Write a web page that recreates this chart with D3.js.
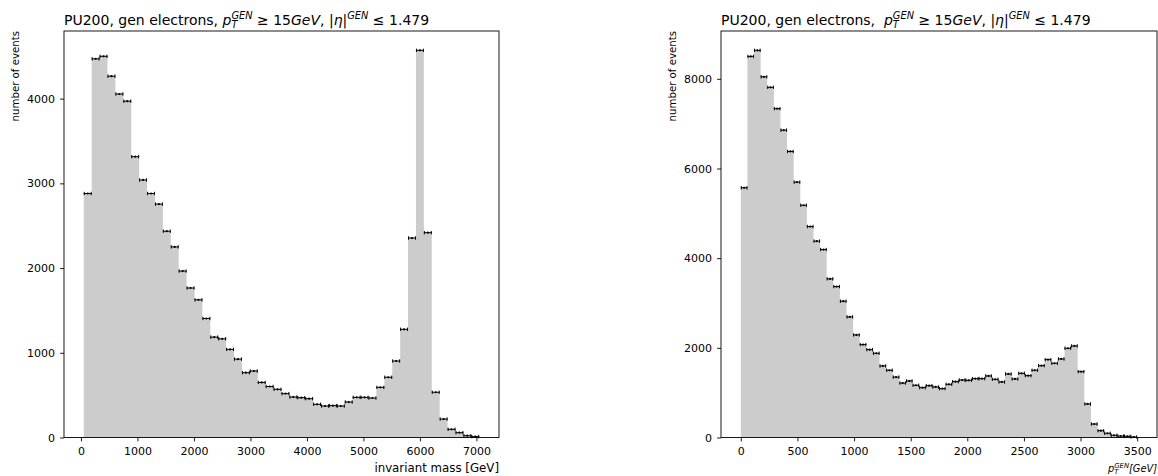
<!DOCTYPE html>
<html>
<head>
<meta charset="utf-8">
<script src="https://cdn.jsdelivr.net/npm/d3@7"></script>
<style>
  html, body { margin: 0; padding: 0; background: #ffffff; }
  svg { display: block; }
  text { font-family: "DejaVu Sans", sans-serif; fill: #000; }
</style>
</head>
<body>
<svg id="chart" width="1158" height="476"></svg>
<script>
// ---- histogram data -------------------------------------------------------
// invariant mass of the gen-electron pair: 50 bins, 50 .. 7050 GeV
const massRange = [50, 7050];
const massCounts = [
  2880, 4470, 4500, 4265, 4055, 3970, 3315, 3040, 2880, 2755,
  2435, 2250, 1965, 1765, 1625, 1405, 1185, 1165, 1040, 925,
  765, 785, 650, 602, 569, 518, 478, 470, 458, 392,
  372, 376, 372, 419, 474, 474, 466, 592, 711, 903,
  1277, 2355, 4570, 2418, 534, 218, 97, 57, 21, 10
];
const massTicksX = [0, 1000, 2000, 3000, 4000, 5000, 6000, 7000];
const massTicksY = [0, 1000, 2000, 3000, 4000];

// gen-electron transverse momentum: 60 bins, 0 .. 3500 GeV
const ptRange = [0, 3500];
const ptCounts = [
  5570, 8500, 8635, 8045, 7810, 7335, 6855, 6380, 5696, 5180,
  4705, 4380, 4192, 3538, 3366, 3040, 2690, 2288, 2072, 1960,
  1879, 1596, 1500, 1347, 1214, 1261, 1165, 1112, 1157, 1127,
  1090, 1187, 1246, 1283, 1276, 1313, 1313, 1373, 1298, 1239,
  1417, 1306, 1432, 1380, 1500, 1603, 1737, 1656, 1752, 1991,
  2042, 1469, 748, 301, 152, 94, 49, 33, 27, 11
];
const ptTicksX = [0, 500, 1000, 1500, 2000, 2500, 3000, 3500];
const ptTicksY = [0, 2000, 4000, 6000, 8000];

// titles / labels as runs of text (it = italic, sub/sup = script, stack = same x as previous script)
const massTitle = [
  {t: "PU200, gen electrons, "},
  {t: "p", it: true}, {t: "T", it: true, sub: true}, {t: "GEN", it: true, sup: true, stack: true},
  {t: " ≥ 15"}, {t: "GeV", it: true}, {t: ", |"}, {t: "η", it: true}, {t: "|"},
  {t: "GEN", it: true, sup: true}, {t: " ≤ 1.479"}
];
const ptTitle = [
  {t: "PU200, gen electrons,  "},
  {t: "p", it: true}, {t: "T", it: true, sub: true}, {t: "GEN", it: true, sup: true, stack: true},
  {t: " ≥ 15"}, {t: "GeV", it: true}, {t: ", |"}, {t: "η", it: true}, {t: "|"},
  {t: "GEN", it: true, sup: true}, {t: " ≤ 1.479"}
];
const massXLabel = [{t: "invariant mass [GeV]"}];
const ptXLabel = [
  {t: "p", it: true}, {t: "T", it: true, sub: true}, {t: "GEN", it: true, sup: true, stack: true},
  {t: "[", it: true}, {t: "GeV", it: true}, {t: "]", it: true}
];
const yLabel = "number of events";

// ---- drawing --------------------------------------------------------------
const svg = d3.select("#chart");
const FILL = "#cccccc";
const TICK = 3.9, FS = 11, TITLE_FS = 14;

// text made of styled runs, placed one after another
function richText(parent, x, y, anchor, runs, size) {
  const g = parent.append("g");
  let cx = 0, lastScriptX = 0, lastScriptW = 0;
  runs.forEach(r => {
    const fs = (r.sub || r.sup) ? size * 0.7 : size;
    const dy = r.sub ? size * 0.22 : (r.sup ? -size * 0.42 : 0);
    let px = cx;
    if (r.stack) px = lastScriptX;
    const t = g.append("text")
      .attr("x", px).attr("y", dy)
      .attr("font-size", fs)
      .style("font-style", r.it ? "italic" : "normal")
      .style("white-space", "pre")
      .text(r.t);
    const w = t.node().getComputedTextLength();
    if (r.stack) {
      cx = Math.max(lastScriptX + lastScriptW, lastScriptX + w);
    } else {
      if (r.sub || r.sup) { lastScriptX = px; lastScriptW = w; }
      cx = px + w;
    }
  });
  const shift = anchor === "end" ? -cx : (anchor === "middle" ? -cx / 2 : 0);
  g.attr("transform", `translate(${x + shift},${y})`);
  return g;
}

function panel(cfg) {
  const {x0, x1, y0, y1} = cfg.frame;
  const n = cfg.counts.length;
  const edges = d3.range(n + 1).map(i => cfg.range[0] + (cfg.range[1] - cfg.range[0]) * i / n);
  const span = cfg.range[1] - cfg.range[0];
  const x = d3.scaleLinear()
    .domain([cfg.range[0] - 0.05 * span, cfg.range[1] + 0.05 * span])
    .range([x0, x1]);
  const y = d3.scaleLinear()
    .domain([0, 1.05 * d3.max(cfg.counts)])
    .range([y1, y0]);

  const g = svg.append("g");

  // filled histogram as one stepped outline
  const steps = cfg.counts.map((c, i) => ({e: edges[i], c}));
  steps.push({e: edges[n], c: cfg.counts[n - 1]});
  g.append("path")
    .datum(steps)
    .attr("fill", FILL)
    .attr("d", d3.area().curve(d3.curveStepAfter)
      .x(d => x(d.e)).y0(y(0)).y1(d => y(d.c)));

  // horizontal bin-width error bars with end caps and centre dot
  const eb = g.append("g").attr("stroke", "#000").attr("stroke-width", 1);
  cfg.counts.forEach((c, i) => {
    const xa = x(edges[i]), xb = x(edges[i + 1]), yc = y(c);
    const xm = (xa + xb) / 2;
    eb.append("line").attr("x1", xa).attr("x2", xb).attr("y1", yc).attr("y2", yc);
    eb.append("line").attr("x1", xa + 0.5).attr("x2", xa + 0.5).attr("y1", yc - 1.7).attr("y2", yc + 1.7);
    eb.append("line").attr("x1", xb - 0.5).attr("x2", xb - 0.5).attr("y1", yc - 1.7).attr("y2", yc + 1.7);
    eb.append("circle").attr("cx", xm).attr("cy", yc).attr("r", 1.1).attr("fill", "#000").attr("stroke", "none");
  });

  // axes
  const ax = g.append("g")
    .attr("transform", `translate(0,${y1})`)
    .call(d3.axisBottom(x).tickValues(cfg.xTicks).tickSize(TICK).tickPadding(5.5).tickFormat(d3.format("d")));
  const ay = g.append("g")
    .attr("transform", `translate(${x0},0)`)
    .call(d3.axisLeft(y).tickValues(cfg.yTicks).tickSize(TICK).tickPadding(5).tickFormat(d3.format("d")));
  [ax, ay].forEach(a => {
    a.select(".domain").remove();
    a.selectAll(".tick line").attr("stroke", "#000").attr("stroke-width", 0.9);
    a.selectAll(".tick text").attr("font-size", FS).attr("font-family", "DejaVu Sans").attr("fill", "#000");
  });

  // frame
  g.append("rect")
    .attr("x", x0).attr("y", y0).attr("width", x1 - x0).attr("height", y1 - y0)
    .attr("fill", "none").attr("stroke", "#000").attr("stroke-width", 0.9);

  // labels
  richText(g, x0, 25, "start", cfg.title, TITLE_FS);
  richText(g, x1, 472, "end", cfg.xlabel, cfg.xlabelSize);
  g.append("text")
    .attr("transform", `translate(${cfg.ylabelX},${y0}) rotate(-90)`)
    .attr("text-anchor", "end")
    .attr("font-size", 10.2)
    .text(yLabel);
}

panel({
  frame: {x0: 64, x1: 499, y0: 31, y1: 437.5},
  range: massRange, counts: massCounts,
  xTicks: massTicksX, yTicks: massTicksY,
  title: massTitle, xlabel: massXLabel, xlabelSize: 11.8, ylabelX: 18.5
});

panel({
  frame: {x0: 721, x1: 1157, y0: 31, y1: 437.5},
  range: ptRange, counts: ptCounts,
  xTicks: ptTicksX, yTicks: ptTicksY,
  title: ptTitle, xlabel: ptXLabel, xlabelSize: 9.8, ylabelX: 676
});
</script>
</body>
</html>
